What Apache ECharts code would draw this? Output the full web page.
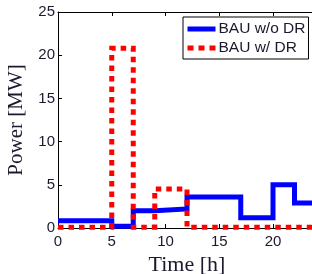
<!DOCTYPE html>
<html>
<head>
<meta charset="utf-8">
<script src="https://cdn.jsdelivr.net/npm/echarts@6/dist/echarts.min.js"></script>
<style>html,body{margin:0;padding:0;background:#fff;}#c{width:312px;height:274px;}</style>
</head>
<body>
<div id="c"></div>
<script>
// Data (step functions: value holds from each breakpoint until the next)
const blueHours = [0, 5, 7, 9, 12, 17, 20, 22, 24];
const blueValues = [0.85, 0.2, 2.0, 2.2, 3.6, 1.2, 5.0, 2.9, 2.9];
const redHours = [0, 5, 7, 9, 12, 24];
const redValues = [0.1, 20.8, 0.1, 4.5, 0.1, 0.1];
const seriesNames = ['BAU w/o DR', 'BAU w/ DR'];
const yTicks = [0, 5, 10, 15, 20, 25];
const xTicks = [0, 5, 10, 15, 20];

const pair = (xs, ys) => xs.map((x, i) => [x, ys[i]]);

const chart = echarts.init(document.getElementById('c'));
const tickFont = { fontFamily: 'Liberation Sans, Arial, sans-serif', fontSize: 15, color: '#1a1a2e' };
const serif = 'Liberation Serif, Times New Roman, serif';
const blueLine = { color: '#0000ff', width: 5, type: 'solid', cap: 'butt', join: 'miter' };
const redLine = { color: '#ff0000', width: 5, type: [5.5, 5], cap: 'butt', join: 'miter' };

chart.setOption({
  animation: false,
  backgroundColor: '#fff',
  grid: { left: 58, top: 12, width: 258, height: 216, containLabel: false, outerBoundsMode: 'none' },
  legend: {
    orient: 'vertical',
    left: 183, top: 17,
    padding: [4, 3, 3, 2],
    itemGap: 3,
    itemWidth: 28, itemHeight: 14,
    borderColor: '#000', borderWidth: 1,
    backgroundColor: '#fff',
    itemStyle: { opacity: 0 },
    textStyle: { fontFamily: 'Liberation Sans, Arial, sans-serif', fontSize: 15.5, color: '#1a1a2e', padding: [0, 0, 0, -2] },
    data: [
      { name: seriesNames[0], lineStyle: { color: '#0000ff', width: 5, type: 'solid' } },
      { name: seriesNames[1], lineStyle: { color: '#ff0000', width: 5, type: [6, 5] } }
    ]
  },
  xAxis: [{
    type: 'value', min: 0, max: 24, interval: 5,
    name: 'Time [h]', nameLocation: 'middle', nameGap: 22,
    nameTextStyle: { fontFamily: serif, fontSize: 22, color: '#1a1a2e' },
    axisLine: { show: true, lineStyle: { color: '#000', width: 1 } },
    axisTick: { show: true, inside: true, length: 4, lineStyle: { color: '#000' } },
    axisLabel: Object.assign({ margin: 6, showMaxLabel: false,
      formatter: v => xTicks.includes(v) ? String(v) : '' }, tickFont),
    splitLine: { show: false }
  }, {
    type: 'value', min: 0, max: 24, interval: 5, position: 'top',
    axisLine: { show: true, onZero: false, lineStyle: { color: '#000', width: 1 } },
    axisTick: { show: true, inside: true, length: 4, lineStyle: { color: '#000' } },
    axisLabel: { show: false }, splitLine: { show: false }
  }],
  yAxis: [{
    type: 'value', min: 0, max: 25, interval: 5,
    name: 'Power [MW]', nameLocation: 'middle', nameGap: 26,
    nameTextStyle: { fontFamily: serif, fontSize: 21, color: '#1a1a2e' },
    axisLine: { show: true, lineStyle: { color: '#000', width: 1 } },
    axisTick: { show: true, inside: true, length: 4, lineStyle: { color: '#000' } },
    axisLabel: Object.assign({ margin: 3, formatter: v => yTicks.includes(v) ? String(v) : '' }, tickFont),
    splitLine: { show: false }
  }, {
    type: 'value', min: 0, max: 25, interval: 5, position: 'right',
    axisLine: { show: true, onZero: false, lineStyle: { color: '#000', width: 1 } },
    axisTick: { show: true, inside: true, length: 4 },
    axisLabel: { show: false }, splitLine: { show: false }
  }],
  series: [{
    name: seriesNames[0], type: 'line', step: 'end', symbol: 'none',
    data: pair(blueHours, blueValues),
    lineStyle: blueLine,
    itemStyle: { color: '#0000ff' },
    z: 2
  }, {
    name: seriesNames[1], type: 'line', step: 'end', symbol: 'none',
    data: pair(redHours, redValues),
    lineStyle: redLine,
    itemStyle: { color: '#ff0000' },
    z: 3
  }]
});
</script>
</body>
</html>
